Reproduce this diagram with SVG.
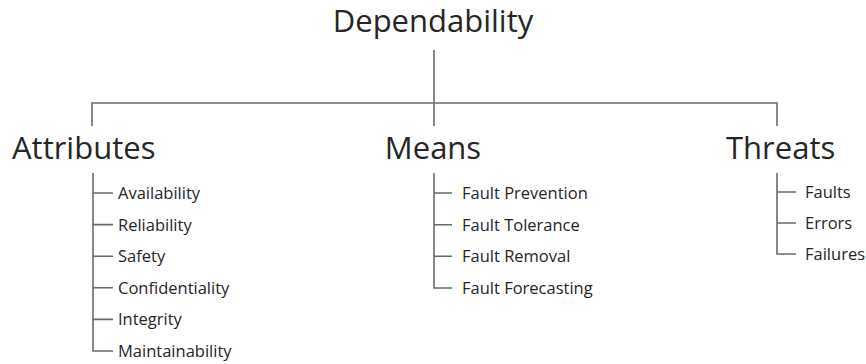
<svg xmlns="http://www.w3.org/2000/svg" width="866" height="364" viewBox="0 0 866 364">
<style>
.h{font-family:"Open Sans","Liberation Sans",sans-serif;font-size:31px;fill:#262626}
.t{font-family:"Open Sans","Liberation Sans",sans-serif;font-size:16.5px;fill:#262626}
.l{stroke:#6a6a6a;stroke-width:1.6;fill:none}
</style>
<rect width="866" height="364" fill="#ffffff"/>
<g id="connectors" class="l">
<path d="M434 50V126M92 126V103H777V126"/>
<path d="M93 173V351H113M93 193H113M93 224.6H113M93 256.2H113M93 287.8H113M93 319.4H113"/>
<path d="M434 173V288H452M434 193H452M434 224.7H452M434 256.3H452"/>
<path d="M777 173V254H796M777 192H796M777 223H796"/>
</g>
<g id="dependability"><text class="h" x="433" y="32" text-anchor="middle">Dependability</text></g>
<g id="attributes"><text class="h" x="12" y="159">Attributes</text></g>
<g id="means"><text class="h" x="433" y="159" text-anchor="middle">Means</text></g>
<g id="threats"><text class="h" x="726" y="159">Threats</text></g>
<g id="availability"><text class="t" x="118" y="199">Availability</text></g>
<g id="reliability"><text class="t" x="118" y="230.6">Reliability</text></g>
<g id="safety"><text class="t" x="118" y="262.2">Safety</text></g>
<g id="confidentiality"><text class="t" x="118" y="293.8">Confidentiality</text></g>
<g id="integrity"><text class="t" x="118" y="325.4">Integrity</text></g>
<g id="maintainability"><text class="t" x="118" y="357">Maintainability</text></g>
<g id="fault-prevention"><text class="t" x="462" y="199">Fault Prevention</text></g>
<g id="fault-tolerance"><text class="t" x="462" y="230.7">Fault Tolerance</text></g>
<g id="fault-removal"><text class="t" x="462" y="262.3">Fault Removal</text></g>
<g id="fault-forecasting"><text class="t" x="462" y="294">Fault Forecasting</text></g>
<g id="faults"><text class="t" x="805" y="198">Faults</text></g>
<g id="errors"><text class="t" x="805" y="229">Errors</text></g>
<g id="failures"><text class="t" x="805" y="260">Failures</text></g>
</svg>
